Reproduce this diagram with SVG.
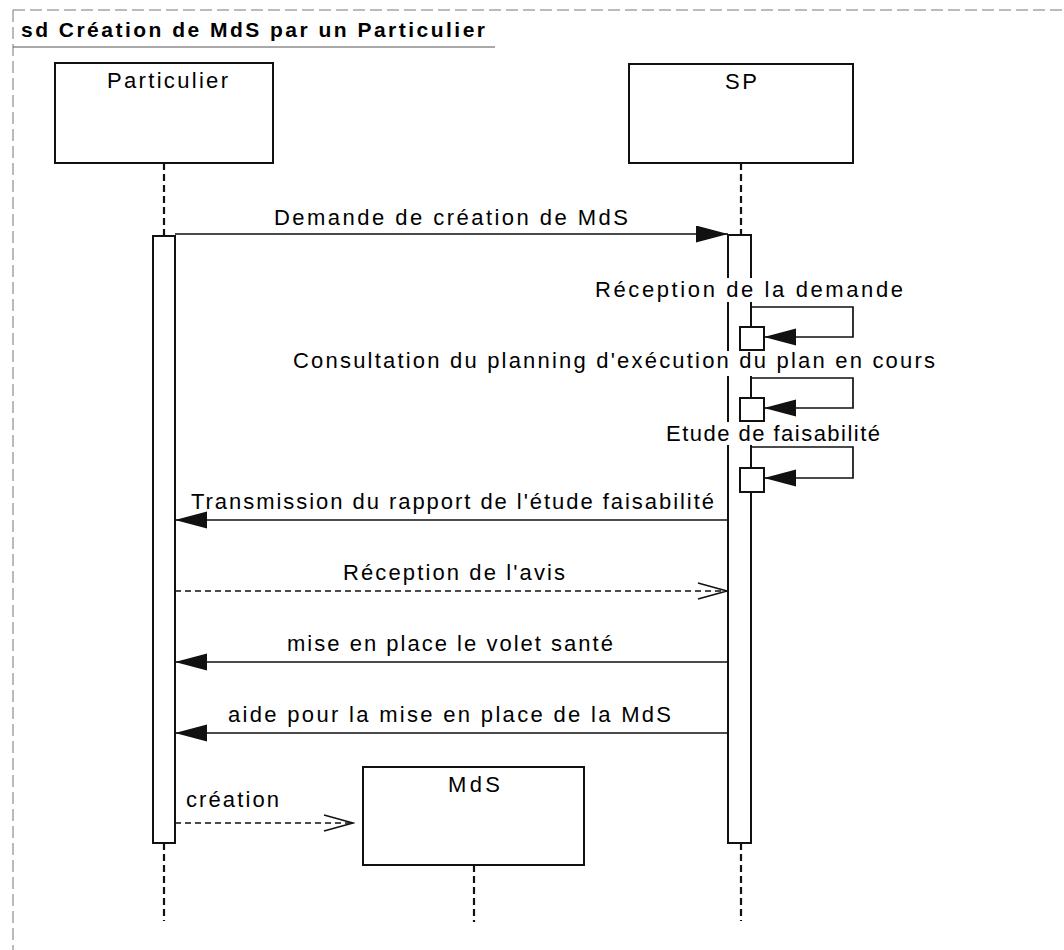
<svg xmlns="http://www.w3.org/2000/svg" width="1064" height="950" viewBox="0 0 1064 950">
  <style>
    text { font-family: "Liberation Sans", Arial, sans-serif; fill: #000; }
    .title { font-size: 21px; font-weight: bold; }
    .obj { font-size: 22px; }
    .msg { font-size: 22px; }
    .box { fill: #fff; stroke: #111; stroke-width: 2; }
    .act { fill: #fff; stroke: #111; stroke-width: 2; }
    .life { stroke: #111; stroke-width: 2.2; stroke-dasharray: 7 4; fill: none; }
    .sync { stroke: #111; stroke-width: 1.7; fill: none; }
    .dash { stroke: #111; stroke-width: 1.7; fill: none; stroke-dasharray: 6 4; }
    .frame { stroke: #777; stroke-width: 1; fill: none; stroke-dasharray: 12 5; }
    .bg { fill: #fff; }
  </style>
  <defs>
    <marker id="filled" markerUnits="userSpaceOnUse" markerWidth="33" markerHeight="18" refX="32" refY="8.5" orient="auto">
      <path d="M0,0 L32,8.5 L0,17 z" fill="#111"/>
    </marker>
    <marker id="open" markerUnits="userSpaceOnUse" markerWidth="32" markerHeight="20" refX="30" refY="9" orient="auto">
      <path d="M1,1 L30,9 L1,17" fill="none" stroke="#111" stroke-width="1.7"/>
    </marker>
  </defs>

  <rect width="1064" height="950" fill="#fff"/>

  <!-- interaction frame -->
  <g id="frame">
    <line class="frame" x1="13" y1="10" x2="1064" y2="10"/>
    <line class="frame" x1="13" y1="10" x2="13" y2="950"/>
    <line x1="13" y1="47" x2="495" y2="47" stroke="#555" stroke-width="1.2"/>
    <text class="title" x="21" y="37" textLength="464">sd Création de MdS par un Particulier</text>
  </g>

  <!-- lifelines -->
  <g id="lifelines">
    <line class="life" x1="164" y1="163" x2="164" y2="236"/>
    <line class="life" x1="164" y1="843" x2="164" y2="921"/>
    <line class="life" x1="741" y1="163" x2="741" y2="235"/>
    <line class="life" x1="741" y1="843" x2="741" y2="921"/>
    <line class="life" x1="474" y1="865" x2="474" y2="922"/>
  </g>

  <g id="particulier">
    <rect class="box" x="55" y="63" width="218" height="100"/>
    <text class="obj" x="107" y="88" textLength="121">Particulier</text>
    <rect class="act" x="153" y="236" width="22" height="607"/>
  </g>

  <g id="sp">
    <rect class="box" x="629" y="64" width="224" height="99"/>
    <text class="obj" x="725" y="89" textLength="32">SP</text>
    <rect class="act" x="728" y="235" width="23" height="608"/>
  </g>

  <g id="mds">
    <rect class="box" x="363" y="767" width="221" height="98"/>
    <text class="obj" x="448" y="792" textLength="52">MdS</text>
  </g>

  <!-- self-message labels (opaque background over the activation) -->
  <g id="self-labels">
    <rect class="bg" x="592" y="278" width="314" height="24"/>
    <text class="msg" x="595" y="297" textLength="308">Réception de la demande</text>
    <rect class="bg" x="290" y="351" width="648" height="25"/>
    <text class="msg" x="293" y="368" textLength="642">Consultation du planning d'exécution du plan en cours</text>
    <rect class="bg" x="663" y="422" width="220" height="23"/>
    <text class="msg" x="666" y="441" textLength="214">Etude de faisabilité</text>
  </g>

  <!-- messages -->
  <g id="connectors">
    <line class="sync" x1="175" y1="234" x2="728" y2="234" marker-end="url(#filled)"/>
    <text class="msg" x="274" y="225" textLength="354">Demande de création de MdS</text>

    <path class="sync" d="M751,307 H853 V337 H764" marker-end="url(#filled)"/>
    <rect class="box" x="740" y="327" width="24" height="23"/>

    <path class="sync" d="M751,378 H853 V408 H764" marker-end="url(#filled)"/>
    <rect class="box" x="740" y="398" width="24" height="23"/>

    <path class="sync" d="M751,447 H853 V478 H764" marker-end="url(#filled)"/>
    <rect class="box" x="740" y="468" width="24" height="24"/>

    <line class="sync" x1="728" y1="520" x2="175" y2="520" marker-end="url(#filled)"/>
    <text class="msg" x="191" y="509" textLength="523">Transmission du rapport de l'étude faisabilité</text>

    <line class="dash" x1="175" y1="591" x2="727" y2="591" marker-end="url(#open)"/>
    <text class="msg" x="343" y="580" textLength="222">Réception de l'avis</text>

    <line class="sync" x1="728" y1="662" x2="175" y2="662" marker-end="url(#filled)"/>
    <text class="msg" x="287" y="651" textLength="326">mise en place le volet santé</text>

    <line class="sync" x1="728" y1="733" x2="175" y2="733" marker-end="url(#filled)"/>
    <text class="msg" x="228" y="722" textLength="443">aide pour la mise en place de la MdS</text>

    <line class="dash" x1="175" y1="823" x2="353" y2="823" marker-end="url(#open)"/>
    <text class="msg" x="186" y="807" textLength="93">création</text>
  </g>
</svg>
